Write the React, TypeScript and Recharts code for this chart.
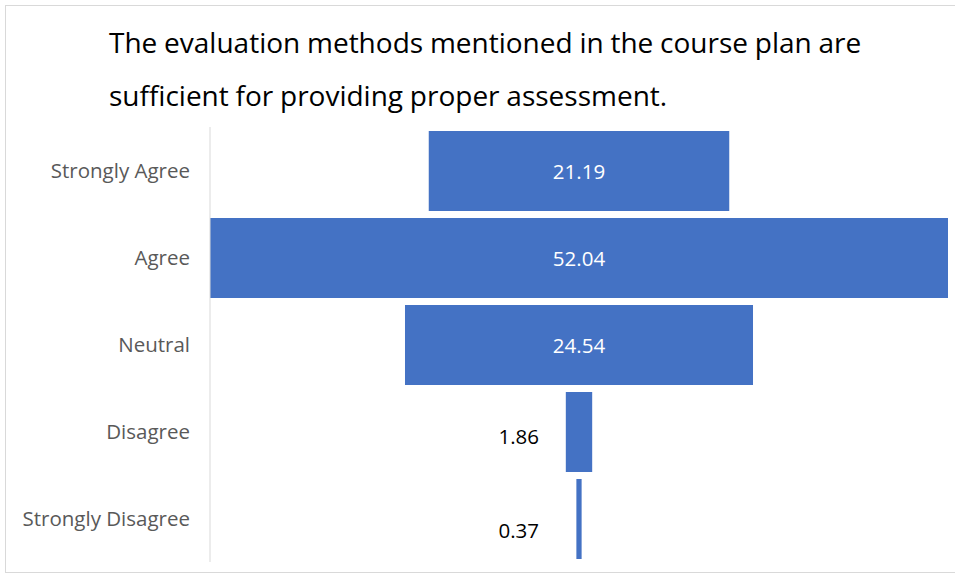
import React from "react";
import { BarChart, Bar, XAxis, YAxis, LabelList } from "recharts";

const categories = ["Strongly Agree", "Agree", "Neutral", "Disagree", "Strongly Disagree"];
const percentages = [21.19, 52.04, 24.54, 1.86, 0.37];
const titleLines = [
  "The evaluation methods mentioned in the course plan are",
  "sufficient for providing proper assessment.",
];

const barColor = "#4472C4";
const font = "'Open Sans', sans-serif";

// funnel: an invisible pad bar pushes each value bar to the centre
const maxValue = Math.max(...percentages);
const data = categories.map((name, i) => ({
  name,
  value: percentages[i],
  pad: (maxValue - percentages[i]) / 2,
}));

const renderLabel = (props: any) => {
  const { x, y, width, height, value } = props;
  const cx = x + width / 2;
  const cy = y + height / 2;
  // thin bars get their label outside, on the left
  if (value < 5) {
    return (
      <text
        x={cx - 40}
        y={cy + (value < 1 ? 11 : 4)}
        textAnchor="end"
        dominantBaseline="central"
        fill="#000"
        fontSize={20.5}
        fontFamily={font}
      >
        {Number(value).toFixed(2)}
      </text>
    );
  }
  return (
    <text x={cx} y={cy} textAnchor="middle" dominantBaseline="central" fill="#fff" fontSize={20.5} fontFamily={font}>
      {Number(value).toFixed(2)}
    </text>
  );
};

export default function App() {
  return (
    <div style={{ position: "absolute", left: 0, top: 0, width: 955, height: 577, background: "#fff", fontFamily: font }}>
      <div
        style={{
          position: "absolute",
          left: 5,
          top: 5,
          width: 950,
          height: 566,
          borderTop: "1px solid #d9d9d9",
          borderLeft: "1px solid #d9d9d9",
          borderBottom: "1px solid #d9d9d9",
        }}
      />
      {titleLines.map((t, i) => (
        <div
          key={i}
          style={{
            position: "absolute",
            left: 109,
            top: 22 + i * 53,
            fontSize: 28,
            lineHeight: "40px",
            wordSpacing: -0.5,
            color: "#000",
            whiteSpace: "nowrap",
          }}
        >
          {t}
        </div>
      ))}
      <div style={{ position: "absolute", left: 0, top: 0 }}>
        <BarChart
          width={955}
          height={577}
          data={data}
          layout="vertical"
          margin={{ top: 127, right: 7, bottom: 15, left: 0 }}
          barSize={80}
        >
          <XAxis type="number" domain={[0, maxValue]} hide />
          <YAxis
            type="category"
            dataKey="name"
            width={210}
            tickLine={false}
            tickSize={0}
            tickMargin={20}
            axisLine={{ stroke: "#d9d9d9", strokeWidth: 1 }}
            tick={{ fill: "#595959", fontSize: 20.5, fontFamily: font }}
          />
          <Bar dataKey="pad" stackId="f" fill="transparent" isAnimationActive={false} />
          <Bar dataKey="value" stackId="f" fill={barColor} isAnimationActive={false}>
            <LabelList dataKey="value" content={renderLabel} />
          </Bar>
        </BarChart>
      </div>
    </div>
  );
}
